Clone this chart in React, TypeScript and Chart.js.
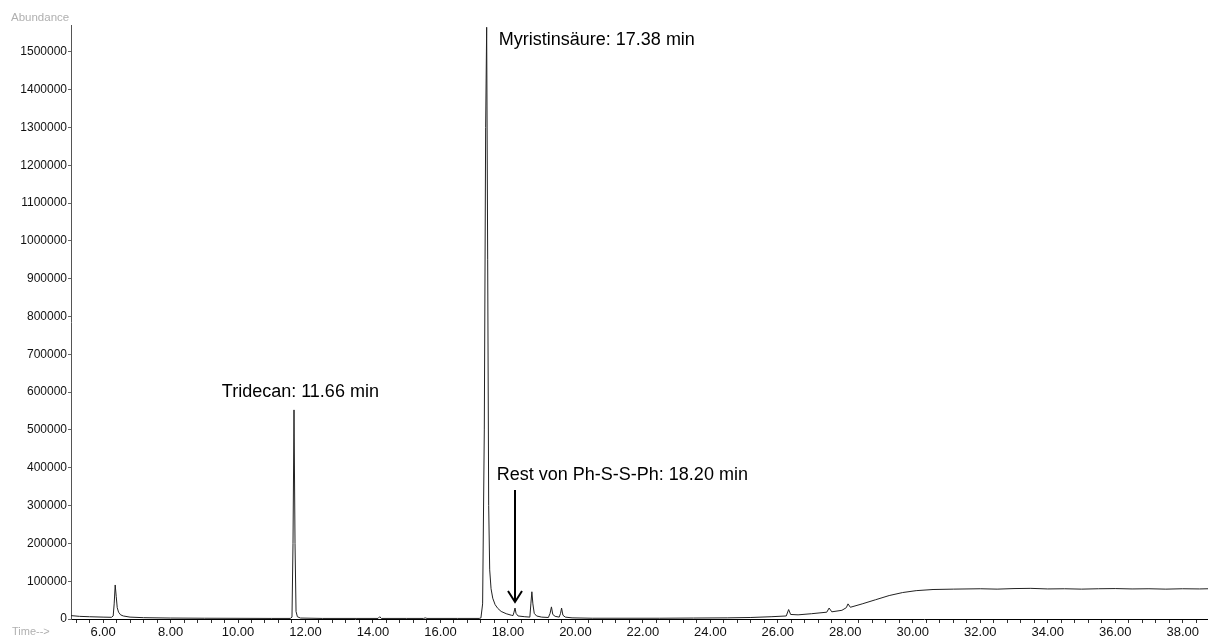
import React, { useEffect, useRef } from "react";
import { Chart, registerables } from "chart.js";

Chart.register(...registerables);

// Retention time (min)
const times: number[] = [
  5.05, 5.3, 5.6, 6.0, 6.25, 6.3, 6.33, 6.36, 6.39, 6.42, 6.46, 6.52, 6.6, 6.8, 7.2, 8.0, 9.0, 10.0, 11.0,
  11.55, 11.6, 11.63, 11.66, 11.69, 11.72, 11.76, 11.85, 12.5, 13.5, 14.15, 14.2, 14.25, 15.0, 15.5, 15.55, 15.6,
  16.5, 17.15, 17.2, 17.25, 17.3, 17.34, 17.37, 17.4, 17.43, 17.46, 17.5, 17.55, 17.62, 17.7, 17.8, 17.95, 18.1,
  18.15, 18.18, 18.21, 18.24, 18.3, 18.5, 18.65, 18.68, 18.71, 18.74, 18.78, 18.85, 19.0, 19.2, 19.25, 19.29,
  19.33, 19.4, 19.52, 19.56, 19.59, 19.63, 19.7, 19.9, 20.5, 21.5, 22.5, 23.5, 24.5, 25.2, 25.8, 26.25, 26.32,
  26.38, 26.6, 27.0, 27.45, 27.52, 27.6, 27.9, 28.03, 28.08, 28.15, 28.5, 28.9, 29.3, 29.7, 30.1, 30.6, 31.2,
  32.0, 32.5, 33.0, 33.5, 34.0, 34.5, 35.0, 35.5, 36.0, 36.5, 37.0, 37.5, 38.0, 38.5, 38.75,
];

// Abundance
const abundance: number[] = [
  9000, 7000, 6000, 5000, 4500, 8000, 40000, 90000, 60000, 30000, 18000, 11000, 8000, 5000, 3500, 2500, 2000, 1800, 1500,
  1500, 5000, 200000, 553000, 200000, 20000, 6000, 2500, 1500, 1500, 1500, 6000, 1500, 1500, 1500, 3000, 1500,
  1500, 1500, 3000, 40000, 500000, 1300000, 1565000, 950000, 300000, 130000, 80000, 55000, 38000, 28000, 20000, 14000, 10000,
  9000, 18000, 29000, 15000, 8000, 6000, 5000, 40000, 72000, 40000, 15000, 8000, 5000, 4000, 15000, 32000,
  12000, 7000, 5000, 15000, 29000, 10000, 5000, 3000, 2000, 2000, 2000, 2500, 3000, 4000, 6000, 8000, 25000,
  12000, 11000, 14000, 18000, 29000, 19000, 23000, 30000, 40000, 31000, 40000, 51000, 62000, 70000, 75000, 78000, 79000,
  80000, 79000, 80500, 81000, 79500, 80000, 79000, 80000, 80500, 79500, 80000, 79000, 80000, 79500, 80000,
];

const xMin = 5.05;
const xMax = 38.75;
const yMax = 1571000;
const xTickStep = 0.4;
const xLabelStep = 2;
const yTickStep = 100000;

// Peak annotations: label anchor (time, abundance)
const labelTexts: string[] = [
  "Tridecan: 11.66 min",
  "Myristinsäure: 17.38 min",
  "Rest von Ph-S-S-Ph: 18.20 min",
];
const labelTimes: number[] = [9.52, 17.73, 17.67];
const labelValues: number[] = [587000, 1518000, 368000];

// Arrow: time, from abundance, to abundance
const arrowTime = 18.2;
const arrowFrom = 341000;
const arrowTo = 45000;

const isMultiple = (v: number, step: number) => {
  const r = v / step;
  return Math.abs(r - Math.round(r)) < 1e-6;
};

export default function App() {
  const canvasRef = useRef<HTMLCanvasElement | null>(null);

  useEffect(() => {
    const canvas = canvasRef.current;
    if (!canvas) return;

    const annotationPlugin = {
      id: "annotations",
      afterDraw(chart: any) {
        const { ctx, scales } = chart;
        const xs = scales.x;
        const ys = scales.y;
        ctx.save();
        ctx.fillStyle = "#000";
        ctx.font = "18px 'Liberation Sans', Arial, sans-serif";
        ctx.textAlign = "left";
        ctx.textBaseline = "alphabetic";
        labelTexts.forEach((t, i) => {
          ctx.fillText(t, xs.getPixelForValue(labelTimes[i]), ys.getPixelForValue(labelValues[i]));
        });
        // arrow
        const ax = Math.round(xs.getPixelForValue(arrowTime));
        const y1 = ys.getPixelForValue(arrowFrom);
        const y2 = ys.getPixelForValue(arrowTo);
        ctx.strokeStyle = "#000";
        ctx.lineWidth = 2;
        ctx.beginPath();
        ctx.moveTo(ax, y1);
        ctx.lineTo(ax, y2);
        ctx.stroke();
        ctx.beginPath();
        ctx.moveTo(ax - 7, y2 - 11);
        ctx.lineTo(ax, y2);
        ctx.lineTo(ax + 7, y2 - 11);
        ctx.stroke();
        // axis titles
        ctx.fillStyle = "#b0b0b0";
        ctx.font = "11.5px 'Liberation Sans', Arial, sans-serif";
        ctx.textBaseline = "middle";
        ctx.fillText("Abundance", 11, 18);
        ctx.font = "11px 'Liberation Sans', Arial, sans-serif";
        ctx.fillText("Time-->", 12, 632);
        ctx.restore();
      },
    };

    const chart = new Chart(canvas, {
      type: "line",
      data: {
        datasets: [
          {
            data: times.map((t, i) => ({ x: t, y: abundance[i] })),
            borderColor: "#222",
            borderWidth: 1,
            pointRadius: 0,
            tension: 0,
            fill: false,
          },
        ],
      },
      options: {
        responsive: false,
        animation: false,
        layout: { padding: { top: 25, right: 0, left: 0, bottom: 0 } },
        plugins: {
          legend: { display: false },
          tooltip: { enabled: false },
        },
        scales: {
          x: {
            type: "linear",
            min: xMin,
            max: xMax,
            afterFit: (s: any) => {
              s.height = 20;
            },
            ticks: {
              stepSize: xTickStep,
              includeBounds: false,
              autoSkip: false,
              maxRotation: 0,
              minRotation: 0,
              padding: 2,
              color: "#111",
              font: { size: 13, family: "'Liberation Sans', Arial, sans-serif" },
              callback: (v: any) => {
                const n = Number(v);
                return isMultiple(n, xLabelStep) ? n.toFixed(2) : "";
              },
            },
            grid: {
              display: true,
              drawOnChartArea: false,
              drawTicks: true,
              tickLength: 4,
              color: "#333",
            },
            border: { display: true, color: "#000", width: 1 },
          },
          y: {
            min: 0,
            suggestedMax: yMax,
            bounds: "data",
            afterFit: (s: any) => {
              s.width = 71;
            },
            ticks: {
              stepSize: yTickStep,
              includeBounds: false,
              padding: 1,
              color: "#111",
              font: { size: 12, family: "'Liberation Sans', Arial, sans-serif" },
              callback: (v: any) => (isMultiple(Number(v), yTickStep) ? String(v) : ""),
            },
            grid: {
              display: true,
              drawOnChartArea: false,
              drawTicks: true,
              tickLength: 3,
              color: "#666",
              tickColor: (c: any) =>
                c.tick && isMultiple(c.tick.value, yTickStep) ? "#666" : "rgba(0,0,0,0)",
            },
            border: { display: true, color: "#555", width: 1, dash: [2, 1] },
          },
        },
      },
      plugins: [annotationPlugin],
    });

    return () => {
      chart.destroy();
    };
  }, []);

  return (
    <div style={{ position: "fixed", left: 0, top: 0, width: 1208, height: 639, background: "#fff" }}>
      <canvas ref={canvasRef} width={1208} height={639} style={{ display: "block" }} />
    </div>
  );
}
